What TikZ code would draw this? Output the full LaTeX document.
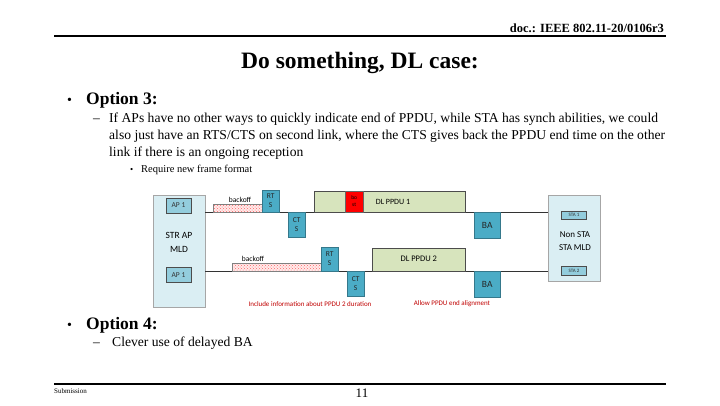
\documentclass[tikz,border=0pt]{standalone}
\usepackage{fontspec}
\setmainfont{Liberation Serif}
\newfontfamily\diagfont{Carlito}
\usetikzlibrary{patterns}
\definecolor{mldfill}{HTML}{DAEEF3}
\definecolor{apfill}{HTML}{93CDDD}
\definecolor{teal}{HTML}{4BACC6}
\definecolor{ppdu}{HTML}{D7E4BD}
\definecolor{redbox}{HTML}{FF0000}
\definecolor{notered}{HTML}{C00000}
\tikzset{
  txt/.style={anchor=base west, inner sep=0pt},
  body/.style={txt, font=\fontsize{13.6}{15}\selectfont},
  optfont/.style={txt, font=\bfseries\fontsize{17.5}{19}\selectfont},
  mld/.style={draw=gray!70, fill=mldfill, line width=0.6pt},
  apbox/.style={draw=gray!60!black, fill=apfill, line width=0.5pt, font=\diagfont\fontsize{7.5}{8}\selectfont, text=black!80},
  frame/.style={draw=teal!70!black, fill=teal, line width=0.4pt, font=\diagfont\fontsize{7.5}{8.5}\selectfont, align=center, text=black!85, inner sep=0pt},
  ppdubox/.style={draw=black!70, fill=ppdu, line width=0.5pt, inner sep=0pt},
  backoffbox/.style={draw=black!50, line width=0.3pt, preaction={fill=red!8}, pattern=crosshatch dots, pattern color=red!60},
  link/.style={draw=black!80, line width=0.6pt},
  note/.style={font=\diagfont\fontsize{7}{8}\selectfont, text=notered, inner sep=0pt},
  lbl/.style={font=\diagfont\fontsize{7.5}{8.5}\selectfont, inner sep=0pt},
}
\begin{document}
\begin{tikzpicture}[x=1pt,y=-1pt]
\useasboundingbox[fill=white] (0,0) rectangle (720,405);
% header
\node[anchor=base east, inner sep=0pt, font=\bfseries\fontsize{12.5}{13}\selectfont] (hdr) at (664,32) {doc.: IEEE 802.11-20/0106r3};
\draw[line width=2pt] (54,36) coordinate (tl) -- (666,36) coordinate (tr);
\node[anchor=base, inner sep=0pt, font=\bfseries\fontsize{23.5}{25}\selectfont] (title) at (360,68) {Do something, DL case:};
% option 3
\node[txt, font=\fontsize{14}{16}\selectfont] (b1) at (67,104) {•};
\node[optfont] (o3) at (86,104) {Option 3:};
\node[body] (d1) at (93,122) {–};
\node[body] (l1) at (109,122) {If APs have no other ways to quickly indicate end of PPDU, while STA has synch abilities, we could};
\node[body] (l2) at (109,139) {also just have an RTS/CTS on second link, where the CTS gives back the PPDU end time on the other};
\node[body] (l3) at (109,156) {link if there is an ongoing reception};
\node[txt, font=\fontsize{9}{10}\selectfont] (b2) at (130,172) {•};
\node[txt, font=\fontsize{10.5}{12}\selectfont] (l4) at (141,172) {Require new frame format};
% diagram
\node[mld, minimum width=52pt, minimum height=112pt, anchor=north west, inner sep=0pt] (apmld) at (153,195) {};
\node[apbox, minimum width=25pt, minimum height=15pt, inner sep=0pt] (ap1) at (178.5,205.5) {AP 1};
\node[apbox, minimum width=25pt, minimum height=15pt, inner sep=0pt] (ap2) at (178.5,275) {AP 1};
\node[lbl, align=center, font=\diagfont\fontsize{9.5}{14}\selectfont] (aplab) at (179,242) {STR AP\\MLD};
\node[mld, minimum width=52pt, minimum height=86pt, anchor=north west, inner sep=0pt] (stamld) at (548,195) {};
\node[apbox, minimum width=25pt, minimum height=8pt, inner sep=0pt, font=\diagfont\fontsize{5}{6}\selectfont] (sta1) at (574,215) {STA 1};
\node[apbox, minimum width=25pt, minimum height=9pt, inner sep=0pt, font=\diagfont\fontsize{5}{6}\selectfont] (sta2) at (574,270.5) {STA 2};
\node[lbl, align=center, font=\diagfont\fontsize{9}{13}\selectfont] (stalab) at (575,241) {Non STA\\STA MLD};
% links
\coordinate (la) at (205,212);
\coordinate (lb) at (548,212);
\coordinate (lc) at (205,271);
\coordinate (ld) at (548,271);
\draw[link] (la) -- (lb);
\draw[link] (lc) -- (ld);
% link 1
\draw[backoffbox] (213,204) rectangle (262,212);
\node[lbl, anchor=base] (bo1) at (240,202) {backoff};
\node[frame, minimum width=17pt, minimum height=22pt, anchor=south west] (rts1) at (262,212) {RT\\S};
\node[frame, minimum width=17pt, minimum height=25pt, anchor=north west] (cts1) at (288,212) {CT\\S};
\node[ppdubox, minimum width=151pt, minimum height=21pt, anchor=south west] (ppdu1) at (314,212) {};
\node[draw=black!60, fill=redbox, minimum width=18pt, minimum height=21pt, anchor=south west, inner sep=0pt, align=center, font=\diagfont\fontsize{5.5}{7}\selectfont] (boost) at (345,212) {bo\\st};
\node[lbl, font=\diagfont\fontsize{8}{9}\selectfont] (pl1) at (393,201.5) {DL PPDU 1};
\node[frame, minimum width=26pt, minimum height=26pt, anchor=north west, font=\diagfont\fontsize{9.5}{10}\selectfont] (ba1) at (474,212) {BA};
% link 2
\draw[backoffbox] (232,263) rectangle (321,271);
\node[lbl, anchor=base] (bo2) at (253,261) {backoff};
\node[frame, minimum width=17pt, minimum height=24pt, anchor=south west] (rts2) at (321,271) {RT\\S};
\node[frame, minimum width=17pt, minimum height=25pt, anchor=north west] (cts2) at (347,271) {CT\\S};
\node[ppdubox, minimum width=93pt, minimum height=23pt, anchor=south west, font=\diagfont\fontsize{8.5}{9}\selectfont] (ppdu2) at (372,271) {DL PPDU 2};
\node[frame, minimum width=26pt, minimum height=26pt, anchor=north west, font=\diagfont\fontsize{9.5}{10}\selectfont] (ba2) at (474,271) {BA};
% notes
\node[note] (n1) at (310,304) {Include information about PPDU 2 duration};
\node[note] (n2) at (452,304) {Allow PPDU end alignment};
% option 4
\node[txt, font=\fontsize{14}{16}\selectfont] (b3) at (67,329) {•};
\node[optfont] (o4) at (86,329) {Option 4:};
\node[body] (d2) at (93,346) {–};
\node[body] (l5) at (112,346) {Clever use of delayed BA};
% footer
\draw[line width=2.2pt] (54,384) coordinate (bl) -- (666,384) coordinate (br);
\node[txt, font=\fontsize{7}{8}\selectfont] (sub) at (54,393) {Submission};
\node[anchor=base, inner sep=0pt, font=\fontsize{13}{14}\selectfont] (pg) at (362,397) {11};
\end{tikzpicture}
\end{document}
